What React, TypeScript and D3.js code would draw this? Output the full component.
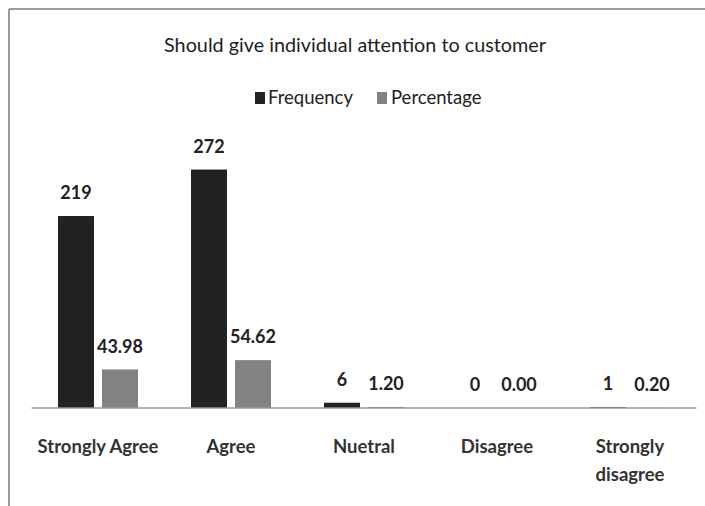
import React from "react";
import * as d3 from "d3";

const categories = ["Strongly Agree", "Agree", "Nuetral", "Disagree", "Strongly disagree"];
const frequency = [219, 272, 6, 0, 1];
const percentage = [43.98, 54.62, 1.2, 0.0, 0.2];
const seriesNames = ["Frequency", "Percentage"];
const title = "Should give individual attention to customer";

const W = 705;
const H = 506;
const plot = { left: 31.5, right: 696.5, top: 145, bottom: 408 };
const colors: Record<string, string> = { Frequency: "#222222", Percentage: "#828282" };
const FONT = "Lato, 'Open Sans', sans-serif";

// wrap long category labels onto two lines like the original axis
const wrapLabel = (s: string) => (s === "Strongly disagree" ? ["Strongly", "disagree"] : [s]);

export default function App() {
  const x = d3.scaleBand<string>().domain(categories).range([plot.left, plot.right]);
  const inner = d3
    .scaleBand<string>()
    .domain(seriesNames)
    .range([26.5, 106.5])
    .paddingInner(8 / 44);
  const y = d3.scaleLinear().domain([0, 300]).range([plot.bottom, plot.top]);

  const rows = categories.map((c, i) => ({
    cat: c,
    values: [
      { key: "Frequency", v: frequency[i], label: d3.format("d")(frequency[i]) },
      { key: "Percentage", v: percentage[i], label: percentage[i].toFixed(2) },
    ],
  }));

  return (
    <svg width={W} height={H} style={{ position: "absolute", left: 0, top: 0, background: "#fff" }}>
      <rect x={0} y={0} width={W} height={H} fill="#fff" />
      {/* chart frame */}
      <line x1={9} y1={9} x2={W} y2={9} stroke="#9a9a9a" strokeWidth={2} />
      <line x1={9} y1={9} x2={9} y2={H} stroke="#9a9a9a" strokeWidth={2} />

      <text x={355} y={45} dy="0.35em" textAnchor="middle" fontFamily={FONT} fontSize={19.8} fill="#1e1e1e">
        {title}
      </text>

      {/* legend */}
      <g fontFamily={FONT} fontSize={18.5} fill="#222">
        <rect x={255} y={92} width={10} height={12} fill={colors.Frequency} />
        <text x={268} y={98} dy="0.35em">Frequency</text>
        <rect x={377} y={92} width={10} height={12} fill={colors.Percentage} />
        <text x={391} y={98} dy="0.35em">Percentage</text>
      </g>

      {rows.map((r) => (
        <g key={r.cat} transform={`translate(${x(r.cat)},0)`}>
          {r.values.map((d) => (
            <g key={d.key}>
              <rect
                x={inner(d.key)}
                y={y(d.v)}
                width={inner.bandwidth()}
                height={plot.bottom - y(d.v)}
                fill={colors[d.key]}
              />
              <text
                x={(inner(d.key) as number) + inner.bandwidth() / 2}
                y={y(d.v) - 23}
                dy="0.35em"
                textAnchor="middle"
                fontFamily={FONT}
                fontWeight="bold"
                fontSize={18}
                fill="#222"
              >
                {d.label}
              </text>
            </g>
          ))}
        </g>
      ))}

      <line x1={plot.left} y1={plot.bottom} x2={plot.right} y2={plot.bottom} stroke="#9a9a9a" strokeWidth={1.5} />

      {categories.map((c) => (
        <text
          key={c}
          x={(x(c) as number) + x.bandwidth() / 2}
          y={447}
          dy="0.35em"
          textAnchor="middle"
          fontFamily={FONT}
          fontWeight="bold"
          fontSize={18.5}
          fill="#333"
        >
          {wrapLabel(c).map((line, i) => (
            <tspan key={i} x={(x(c) as number) + x.bandwidth() / 2} dy={i === 0 ? "0.35em" : "1.5em"}>
              {line}
            </tspan>
          ))}
        </text>
      ))}
    </svg>
  );
}
